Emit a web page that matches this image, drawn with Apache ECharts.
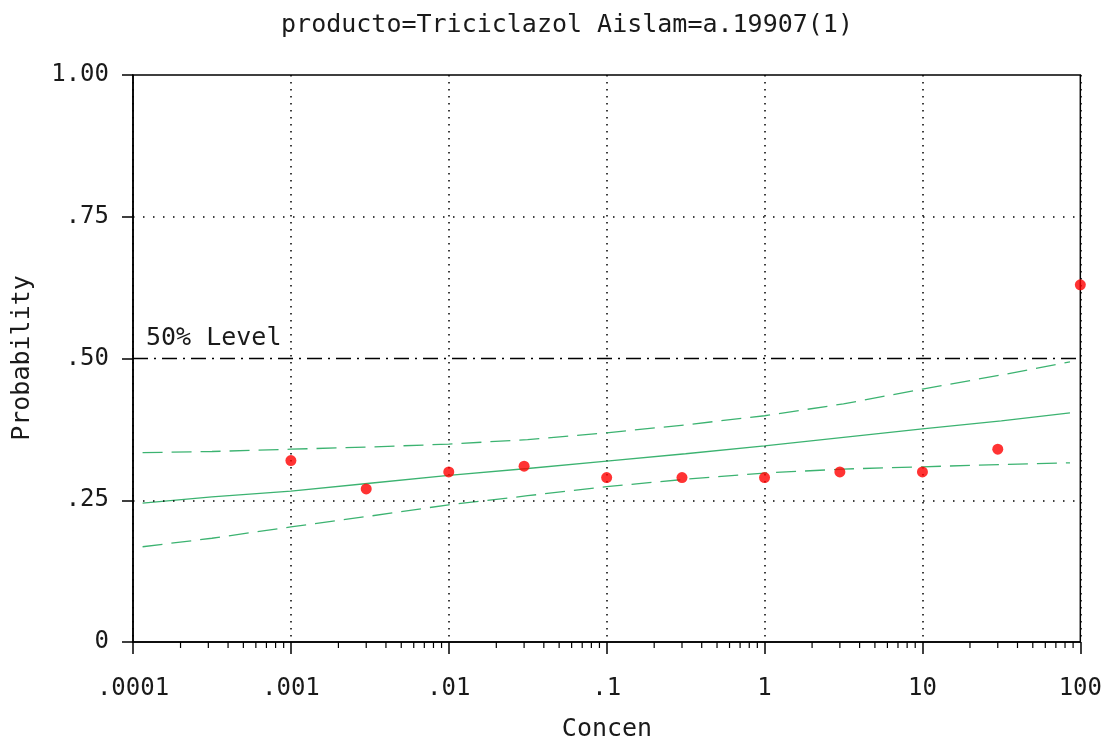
<!DOCTYPE html>
<html>
<head>
<meta charset="utf-8">
<title>Triciclazol</title>
<script src="https://cdn.jsdelivr.net/npm/echarts@6/dist/echarts.min.js"></script>
<style>
  html, body { margin: 0; padding: 0; background: #fff; }
  #chart { width: 1105px; height: 740px; }
</style>
</head>
<body>
<div id="chart"></div>
<script>
// Observed response per concentration
const concentrations = [0.001, 0.003, 0.01, 0.03, 0.1, 0.3, 1, 3, 10, 30, 100];
const observed = [0.32, 0.27, 0.30, 0.31, 0.29, 0.29, 0.29, 0.30, 0.30, 0.34, 0.63];

// Fitted probit curve and its confidence band, sampled along the log axis
const fitConc = [1.15e-4, 3.16e-4, 1e-3, 3.16e-3, 0.01, 0.0316, 0.1, 0.316, 1, 3.16, 10, 31.6, 86];
const fitMid   = [0.245, 0.256, 0.266, 0.280, 0.294, 0.306, 0.319, 0.332, 0.346, 0.361, 0.376, 0.390, 0.404];
const fitUpper = [0.334, 0.336, 0.340, 0.344, 0.349, 0.357, 0.369, 0.383, 0.399, 0.420, 0.446, 0.471, 0.494];
const fitLower = [0.168, 0.183, 0.203, 0.222, 0.242, 0.258, 0.274, 0.287, 0.298, 0.305, 0.309, 0.313, 0.316];

// Axis labels
const xTickLabels = { '-4': '.0001', '-3': '.001', '-2': '.01', '-1': '.1', '0': '1', '1': '10', '2': '100' };
const yTickLabels = { '0': '0', '0.25': '.25', '0.5': '.50', '0.75': '.75', '1': '1.00' };
const gridLevels = [0.25, 0.75];
const halfLevel = 0.5;

// Minor tick positions: 2..9 within each decade
const minorTicks = [];
for (let d = -4; d <= 1; d++) {
  for (let m = 2; m <= 9; m++) minorTicks.push([m * Math.pow(10, d), 0]);
}

const FONT = 'DejaVu Sans Mono';
const GREEN = '#3cb371';
const TEXT = '#1a1a1a';

const zip = (xs, ys) => xs.map((x, i) => [x, ys[i]]);

const chart = echarts.init(document.getElementById('chart'));
chart.setOption({
  animation: false,
  backgroundColor: '#fff',
  grid: {
    left: 133, right: 19, top: 75, bottom: 98,
    show: true, borderColor: '#000', borderWidth: 1.5, backgroundColor: 'transparent'
  },
  graphic: [
    { type: 'text', x: 567, y: 25, style: { text: 'producto=Triciclazol Aislam=a.19907(1)', font: '25px ' + FONT, fill: TEXT, textAlign: 'center', textVerticalAlign: 'middle' } },
    { type: 'text', x: 146, y: 338, style: { text: '50% Level', font: '25px ' + FONT, fill: TEXT, textAlign: 'left', textVerticalAlign: 'middle' } },
    { type: 'text', x: 22, y: 358, rotation: Math.PI / 2, style: { text: 'Probability', font: '25px ' + FONT, fill: TEXT, textAlign: 'center', textVerticalAlign: 'middle' } },
    { type: 'text', x: 607, y: 729, style: { text: 'Concen', font: '25px ' + FONT, fill: TEXT, textAlign: 'center', textVerticalAlign: 'middle' } }
  ],
  xAxis: {
    type: 'log', logBase: 10, min: 1e-4, max: 100, splitNumber: 6,
    axisLine: { show: true, onZero: false, lineStyle: { color: '#000', width: 1.5 } },
    axisTick: { show: true, length: 12, lineStyle: { color: '#000', width: 1.5 } },
    axisLabel: {
      margin: 35, color: TEXT, fontFamily: FONT, fontSize: 24,
      formatter: v => xTickLabels[String(Math.round(Math.log10(v)))] ?? ''
    },
    splitLine: { show: true, lineStyle: { color: '#000', width: 1.5, type: [1.5, 5.5] } }
  },
  yAxis: {
    type: 'value', min: 0, max: 1, interval: 0.25,
    axisLine: { show: true, lineStyle: { color: '#000', width: 1.5 } },
    axisTick: { show: true, length: 11, lineStyle: { color: '#000', width: 1.5 } },
    axisLabel: {
      margin: 24, color: TEXT, fontFamily: FONT, fontSize: 24,
      formatter: v => yTickLabels[String(Math.round(v * 100) / 100)] ?? ''
    },
    splitLine: { show: false }
  },
  series: [
    {
      type: 'line', name: 'upper', data: zip(fitConc, fitUpper), showSymbol: false, silent: true,
      lineStyle: { color: GREEN, width: 1.3, type: [20, 9] }, z: 3
    },
    {
      type: 'line', name: 'fit', data: zip(fitConc, fitMid), showSymbol: false, silent: true,
      lineStyle: { color: GREEN, width: 1.3 }, z: 3,
      markLine: {
        silent: true, symbol: 'none', label: { show: false },
        data: gridLevels.map(v => ({ yAxis: v, lineStyle: { color: '#000', width: 1.5, type: [1.5, 8.5] } }))
          .concat([{ yAxis: halfLevel, lineStyle: { color: '#000', width: 1.3, type: [15, 6, 2, 6] } }])
      }
    },
    {
      type: 'line', name: 'lower', data: zip(fitConc, fitLower), showSymbol: false, silent: true,
      lineStyle: { color: GREEN, width: 1.3, type: [20, 9] }, z: 3
    },
    {
      type: 'scatter', name: 'observed', data: zip(concentrations, observed),
      symbol: 'circle', symbolSize: 11, itemStyle: { color: '#ff0000' }, clip: false, z: 5
    },
    {
      type: 'custom', name: 'minorTicks', data: minorTicks, silent: true, clip: false,
      encode: { x: 0, y: 1 },
      renderItem: (params, api) => {
        const p = api.coord([api.value(0), api.value(1)]);
        return {
          type: 'line',
          shape: { x1: p[0], y1: p[1], x2: p[0], y2: p[1] + 6 },
          style: { stroke: '#000', lineWidth: 1.2 }
        };
      }
    }
  ]
});
</script>
</body>
</html>
